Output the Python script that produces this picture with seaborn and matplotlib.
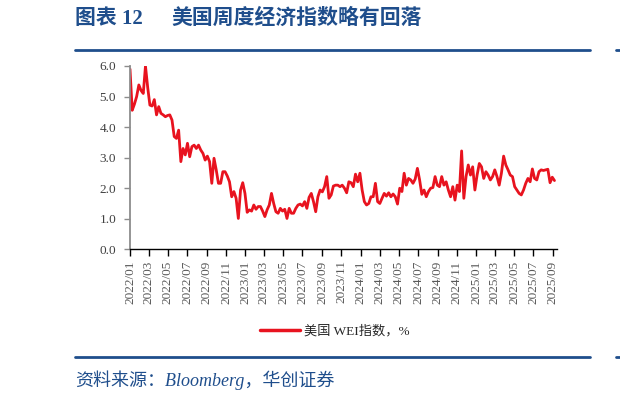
import pandas as pd
import seaborn as sns
import matplotlib.pyplot as plt
import matplotlib.dates as mdates
from matplotlib.lines import Line2D
from matplotlib.ticker import FormatStrFormatter

# weekly WEI values (%), first week 2022-01-01
wei_2022 = [5.9, 4.55, 4.75, 5.0, 5.38, 5.2, 5.1, 6.0, 5.3, 4.72,
            4.69, 4.9, 4.4, 4.67, 4.45, 4.4, 4.34, 4.38, 4.4, 4.23,
            3.69, 3.63, 3.9, 2.87, 3.3, 3.09, 3.47, 3.03, 3.36, 3.41,
            3.3, 3.41, 3.25, 3.14, 2.92, 3.05, 2.87, 2.16, 2.98, 2.6,
            2.16, 2.16, 2.54, 2.54, 2.4, 2.21, 1.72, 1.89, 1.67, 1.01,
            1.94, 2.18]
wei_2023 = [1.83, 1.21, 1.29, 1.25, 1.45, 1.31, 1.4, 1.4, 1.25, 1.07,
            1.29, 1.45, 1.83, 1.5, 1.23, 1.18, 1.34, 1.25, 1.31, 1.01,
            1.34, 1.18, 1.18, 1.34, 1.45, 1.48, 1.42, 1.56, 1.34, 1.7,
            1.83, 1.56, 1.23, 1.72, 1.94, 1.88, 2.05, 2.38, 1.67, 1.78,
            2.07, 2.1, 2.1, 2.05, 2.1, 2.0, 1.85, 2.21, 2.18, 2.05,
            2.46, 2.21]
wei_2024 = [2.49, 1.94, 1.56, 1.45, 1.5, 1.72, 1.72, 2.16, 1.56, 1.5,
            1.67, 1.83, 1.74, 1.85, 1.72, 1.81, 1.72, 1.48, 2.0, 1.89,
            2.49, 2.1, 2.32, 2.27, 2.16, 2.3, 2.65, 2.27, 1.8, 1.94,
            1.72, 1.89, 2.0, 2.02, 2.38, 2.1, 2.05, 2.38, 2.1, 2.21,
            1.94, 1.72, 2.05, 1.61, 2.1, 1.89, 3.22, 1.67, 2.38, 2.76,
            2.43, 2.7]
wei_2025 = [1.94, 2.43, 2.81, 2.7, 2.32, 2.54, 2.43, 2.27, 2.38, 2.6,
            2.38, 2.1, 2.49, 3.05, 2.76, 2.6, 2.43, 2.38, 2.05, 1.94,
            1.83, 1.78, 1.94, 2.16, 2.32, 2.21, 2.63, 2.32, 2.27, 2.54,
            2.6, 2.58, 2.6, 2.62, 2.18, 2.36, 2.25]

values = wei_2022 + wei_2023 + wei_2024 + wei_2025
dates = pd.date_range('2022-01-01', periods=len(values), freq='7D')
df = pd.DataFrame({'date': dates, 'wei': values})

title_num = '图表 12'
title_text = '美国周度经济指数略有回落'
legend_label = '美国 WEI指数，%'
source_text = '资料来源：Bloomberg，华创证券'

blue = '#1F4E8C'
red = '#E8131F'

sns.set_theme(style='white')
plt.rcParams['font.family'] = ['Liberation Serif', 'Noto Sans CJK SC']

W, H = 620, 398
fig = plt.figure(figsize=(6.2, 3.98), dpi=100)
ax = fig.add_axes([130 / W, 1 - 249.3 / H, 427 / W, 183.3 / H])

sns.lineplot(data=df, x='date', y='wei', color=red, linewidth=2.0,
             ax=ax, label=legend_label)

ax.set_ylim(0, 6)
ax.set_yticks([0, 1, 2, 3, 4, 5, 6])
ax.yaxis.set_major_formatter(FormatStrFormatter('%.1f'))
ax.set_xlim(pd.Timestamp('2022-01-01'), pd.Timestamp('2025-09-14'))
ax.xaxis.set_major_locator(mdates.MonthLocator(bymonth=[1, 3, 5, 7, 9, 11]))
ax.xaxis.set_major_formatter(mdates.DateFormatter('%Y/%m'))
ax.set_xlabel('')
ax.set_ylabel('')

for s in ['top', 'right']:
    ax.spines[s].set_visible(False)
ax.spines['left'].set_color('#8C8C8C')
ax.spines['left'].set_linewidth(1.3)
ax.spines['bottom'].set_color('#000000')
ax.spines['bottom'].set_linewidth(1.0)

ax.tick_params(axis='y', direction='out', length=4, width=1, color='#8C8C8C',
               labelsize=9.5, labelcolor='#404040', pad=6, left=True)
ax.tick_params(axis='x', direction='out', length=5, width=1, color='#000000',
               labelsize=9.5, labelcolor='#595959', pad=3, bottom=True,
               labelrotation=90)

leg = ax.legend(loc='center', bbox_to_anchor=(335 / W, 1 - 331 / H),
                bbox_transform=fig.transFigure, frameon=False, fontsize=9.5,
                handlelength=3.0, handletextpad=0.3)
for line in leg.get_lines():
    line.set_linewidth(2.5)

fig.text(75 / W, 1 - 19 / H, title_num, fontsize=15, fontweight='bold',
         color=blue, va='center', ha='left')
fig.text(171 / W, 1 - 19 / H, title_text, fontsize=15, fontweight='bold',
         color=blue, va='center', ha='left')

fig.add_artist(Line2D([75 / W, 590 / W], [1 - 50 / H] * 2, color=blue, lw=2))
fig.add_artist(Line2D([75 / W, 590 / W], [1 - 357 / H] * 2, color=blue, lw=2))
fig.add_artist(Line2D([616 / W, 1.0], [1 - 50 / H] * 2, color=blue, lw=2))
fig.add_artist(Line2D([616 / W, 1.0], [1 - 357 / H] * 2, color=blue, lw=2))

fig.text(75 / W, 1 - 380 / H, source_text, fontsize=13, style='italic',
         color=blue, va='center', ha='left')

plt.savefig('out.png', dpi=100)
